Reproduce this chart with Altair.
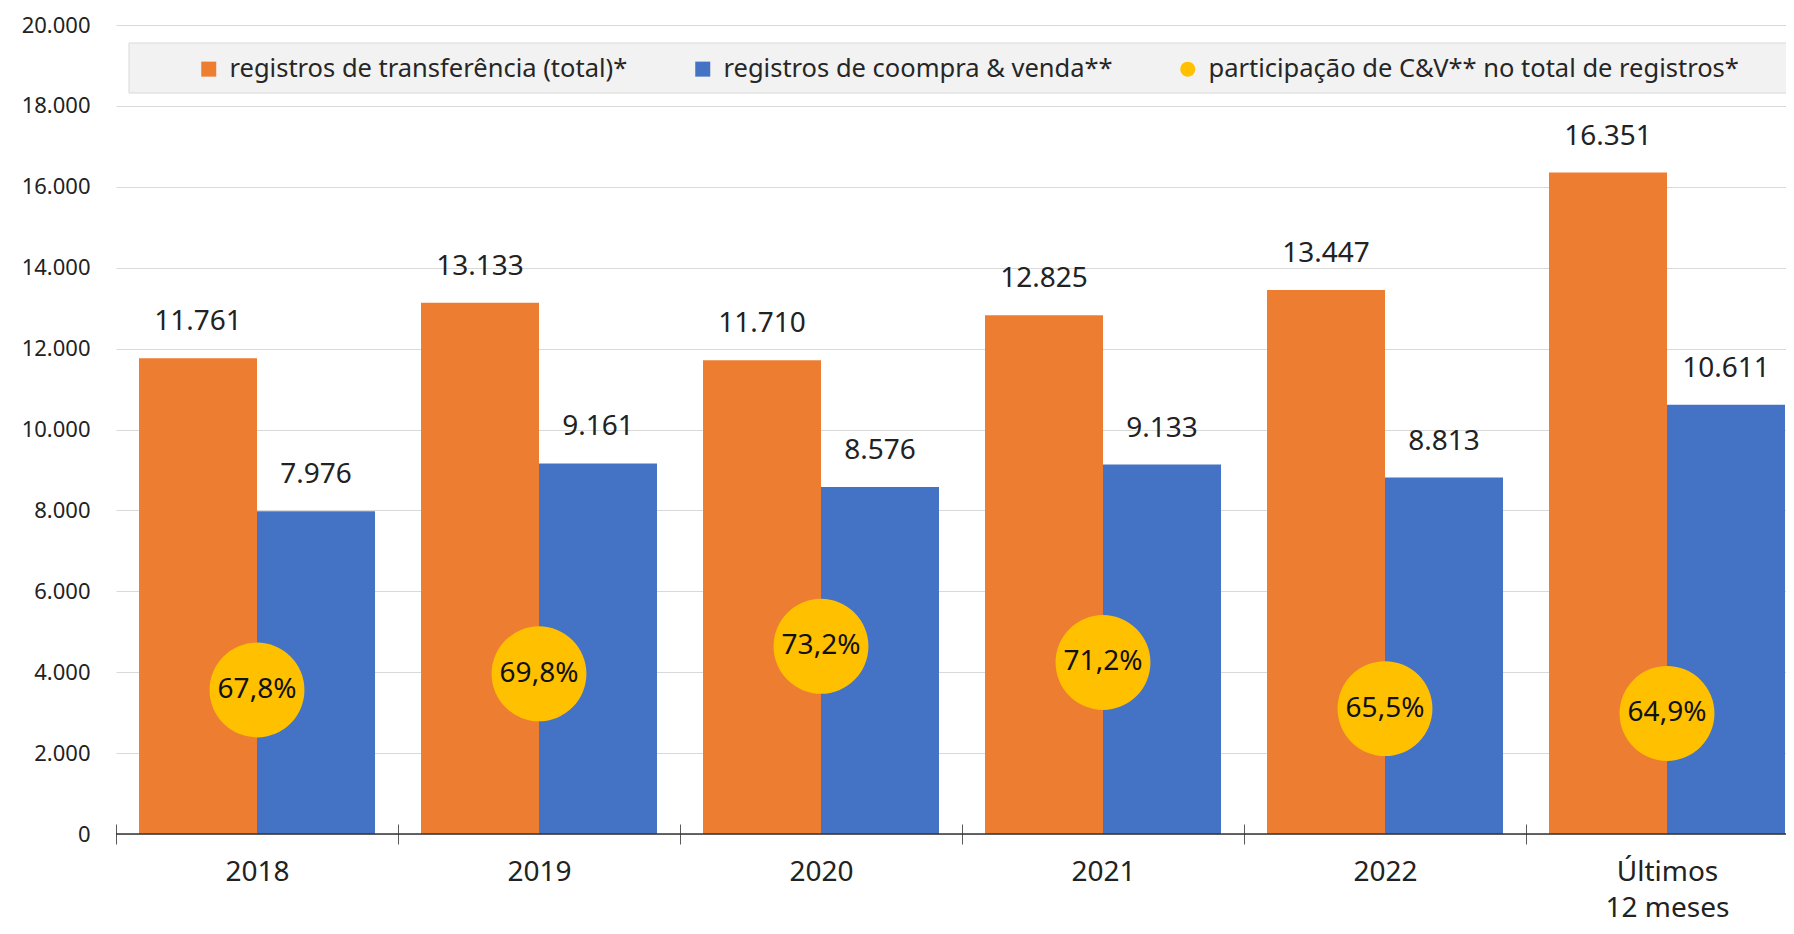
import altair as alt
import pandas as pd

FONT = "Noto Sans"

categorias = ["2018", "2019", "2020", "2021", "2022", "Últimos 12 meses"]
transferencia = [11761, 13133, 11710, 12825, 13447, 16351]
compra_venda = [7976, 9161, 8576, 9133, 8813, 10611]
participacao = [0.678, 0.698, 0.732, 0.712, 0.655, 0.649]
series = [
    "registros de transferência (total)*",
    "registros de coompra & venda**",
    "participação de C&V** no total de registros*",
]
cores = ["#ED7D31", "#4472C4", "#FFC000"]
formas = ["square", "square", "circle"]
y_ticks = list(range(0, 20001, 2000))

bars_df = pd.DataFrame({
    "categoria": categorias * 2,
    "serie": [series[0]] * len(categorias) + [series[1]] * len(categorias),
    "valor": transferencia + compra_venda,
})
pct_df = pd.DataFrame({
    "categoria": categorias,
    "serie": [series[2]] * len(categorias),
    "pct": participacao,
})

x_enc = alt.X(
    "categoria:N",
    sort=categorias,
    title=None,
    scale=alt.Scale(paddingInner=0, paddingOuter=0, range=[0, 1692]),
    axis=alt.Axis(
        labelAngle=0,
        labelFont=FONT,
        labelFontSize=28,
        labelColor="#222222",
        labelPadding=14,
        labelLineHeight=36,
        labelExpr="datum.label == 'Últimos 12 meses' ? ['Últimos', '12 meses'] : datum.label",
        domain=False,
        ticks=True,
        tickSize=20,
        tickColor="#595959",
        tickWidth=1,
        tickBand="extent",
        offset=-10,
        grid=False,
    ),
)

legend = alt.Legend(
    title=None,
    orient="none",
    legendX=80,
    legendY=31,
    direction="horizontal",
    labelFont=FONT,
    labelFontSize=25.5,
    labelColor="#262626",
    symbolSize=225,
    symbolStrokeWidth=0,
    symbolOpacity=1,
    labelOffset=8,
    columnPadding=62,
    labelLimit=1000,
    padding=0,
)

color_enc = alt.Color("serie:N", scale=alt.Scale(domain=series, range=cores), legend=legend)
shape_enc = alt.Shape("serie:N", scale=alt.Scale(domain=series, range=formas), legend=legend)

y_scale = alt.Scale(domain=[0, 20000], nice=False)
y_enc = alt.Y(
    "valor:Q",
    scale=y_scale,
    title=None,
    axis=alt.Axis(
        values=y_ticks,
        labelExpr="replace(format(datum.value, ',d'), ',', '.')",
        labelFont=FONT,
        labelFontSize=22,
        labelColor="#222222",
        labelPadding=26,
        domain=False,
        ticks=False,
        grid=True,
        gridColor="#d9d9d9",
        gridWidth=1,
    ),
)

xoff = alt.XOffset(
    "serie:N",
    sort=series[:2],
    scale=alt.Scale(paddingInner=0, paddingOuter=0.195),
)

one = pd.DataFrame({"z": [0]})

legend_box = alt.Chart(one).mark_rect(
    fill="#f2f2f2", stroke="#d9d9d9", strokeWidth=1
).encode(
    x=alt.value(13), x2=alt.value(1720), y=alt.value(18), y2=alt.value(68)
)

bars = alt.Chart(bars_df).mark_bar(opacity=1).encode(
    x=x_enc, xOffset=xoff, y=y_enc, color=color_enc
)

bar_text = alt.Chart(bars_df).transform_calculate(
    rotulo="replace(format(datum.valor, ',d'), ',', '.')"
).mark_text(
    font=FONT, fontSize=28, color="#222222", baseline="middle", dy=-36
).encode(
    x=x_enc, xOffset=xoff, y=y_enc, text="rotulo:N"
)

baseline = alt.Chart(one).mark_rule(color="#333333", strokeWidth=1.5).encode(
    y=alt.datum(0, scale=y_scale)
)

pct_scale = alt.Scale(domain=[0.5, 1.5], nice=False)

circles = alt.Chart(pct_df).mark_point(size=9000, opacity=1, filled=True, strokeWidth=0).encode(
    x=x_enc,
    y=alt.Y("pct:Q", scale=pct_scale, axis=None),
    color=color_enc,
    shape=shape_enc,
)

circle_text = alt.Chart(pct_df).transform_calculate(
    rotulo="replace(format(datum.pct, '.1%'), '.', ',')"
).mark_text(
    font=FONT, fontSize=28, color="#111111", baseline="middle"
).encode(
    x=x_enc,
    y=alt.Y("pct:Q", scale=pct_scale, axis=None),
    text="rotulo:N",
)

left = alt.layer(legend_box, bars, bar_text, baseline)
right = alt.layer(circles, circle_text)

chart = alt.layer(left, right).resolve_scale(y="independent").properties(
    width=1670,
    height=809,
    autosize=alt.AutoSizeParams(type="none"),
    padding={"left": 108, "top": 17, "right": 0, "bottom": 92},
    background="white",
).configure_view(stroke=None)

chart.save("out.html", embed_options={"renderer": "svg", "actions": False})
